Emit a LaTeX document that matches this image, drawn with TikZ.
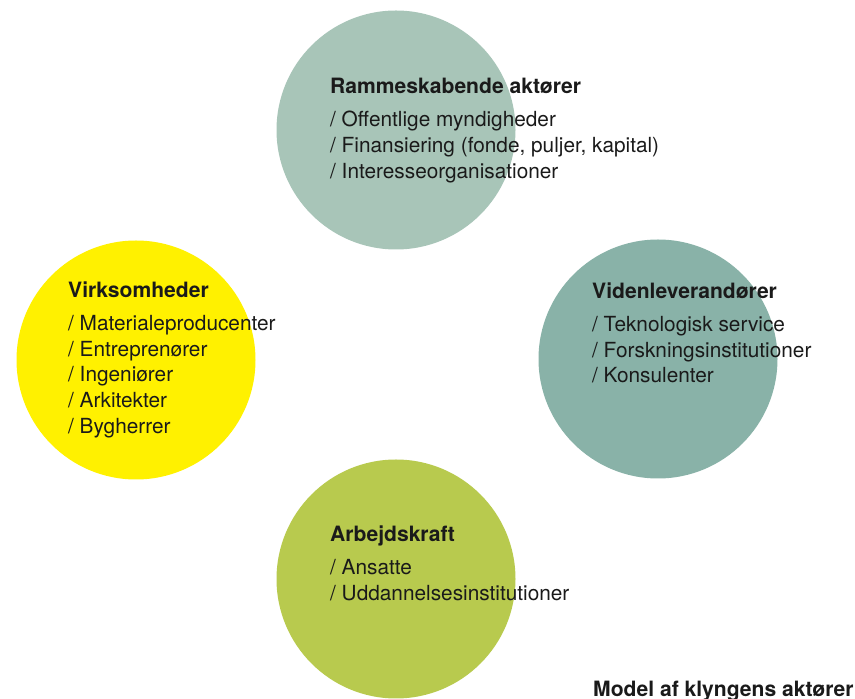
\documentclass[tikz,border=0pt]{standalone}
\usepackage{fontspec}
\setmainfont{TeX Gyre Heros}
\usepackage{tikz}
\usetikzlibrary{positioning}
\definecolor{klyngeSage}{RGB}{168,197,184}
\definecolor{klyngeTeal}{RGB}{137,178,168}
\definecolor{klyngeYellow}{RGB}{255,241,0}
\definecolor{klyngeLime}{RGB}{184,202,78}
\definecolor{klyngeInk}{RGB}{26,26,26}

\begin{document}
\begin{tikzpicture}[
  x=1pt, y=1pt,
  %% Coloured actor disc (1-arg: colour)
  actor/.style={
    circle,
    fill=#1,
    minimum size=239pt,
    inner sep=0pt
  },
  %% Group heading
  head/.style={
    anchor=base west,
    inner sep=0pt,
    text=klyngeInk,
    font=\fontsize{21.1}{24}\selectfont\bfseries
  },
  %% List of members under a heading
  members/.style={
    anchor=north west,
    inner sep=0pt,
    align=left,
    text=klyngeInk,
    font=\fontsize{20.8}{25.8}\selectfont
  }
]
\useasboundingbox (0,0) rectangle (855,699);

%% ---- Actor discs ----
\node[actor=klyngeSage]   (ram)    at (396,569) {};
\node[actor=klyngeYellow] (virk)   at (136,339) {};
\node[actor=klyngeTeal]   (viden)  at (658,340) {};
\node[actor=klyngeLime]   (arbejd) at (396,120) {};

%% ---- Headings ----
\node[head] (ramhead)    at (330,605) {Rammeskabende aktører};
\node[head] (virkhead)   at (68,401)  {Virksomheder};
\node[head] (videnhead)  at (592,400) {Videnleverandører};
\node[head] (arbejdhead) at (330,157) {Arbejdskraft};

%% ---- Member lists ----
\node[members] (ramlist) at ([yshift=-17pt]ramhead.base west)
  {/ Offentlige myndigheder\\
   / Finansiering (fonde, puljer, kapital)\\
   / Interesseorganisationer};
\node[members] (virklist) at ([yshift=-17pt]virkhead.base west)
  {/ Materialeproducenter\\
   / Entreprenører\\
   / Ingeniører\\
   / Arkitekter\\
   / Bygherrer};
\node[members] (videnlist) at ([yshift=-17pt]videnhead.base west)
  {/ Teknologisk service\\
   / Forskningsinstitutioner\\
   / Konsulenter};
\node[members] (arbejdlist) at ([yshift=-17pt]arbejdhead.base west)
  {/ Ansatte\\
   / Uddannelsesinstitutioner};

%% ---- Caption ----
\node[head] (caption) at (593,2) {Model af klyngens aktører};

\end{tikzpicture}
\end{document}
